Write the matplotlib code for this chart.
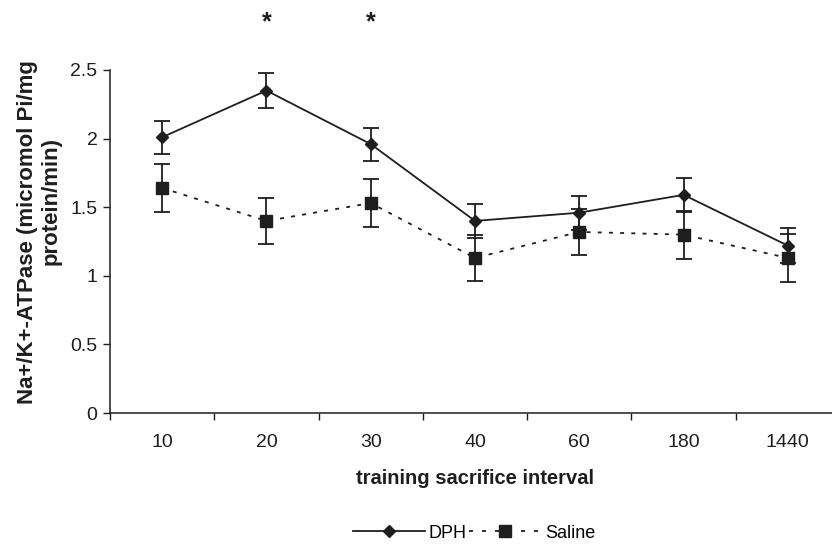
import matplotlib.pyplot as plt
from matplotlib.lines import Line2D

plt.rcParams['font.family'] = ['Liberation Sans', 'DejaVu Sans']

intervals = ['10', '20', '30', '40', '60', '180', '1440']
dph = [2.01, 2.35, 1.96, 1.40, 1.46, 1.59, 1.22]
dph_err = [0.12, 0.125, 0.12, 0.125, 0.125, 0.125, 0.13]
saline = [1.64, 1.40, 1.53, 1.13, 1.32, 1.30, 1.13]
saline_err = [0.177, 0.17, 0.177, 0.165, 0.17, 0.175, 0.177]
signif = ['20', '30']  # marked with *

ink = '#1e1e1e'
dots = (0, (2.2, 4))

fig = plt.figure(figsize=(8.32, 5.44), dpi=100)
ax = fig.add_axes([110/832, 1 - 413/544, 730/832, 343/544])

x = range(len(intervals))
ax.errorbar(x, dph, yerr=dph_err, color=ink, lw=1.3, marker='D', ms=6.5,
            capsize=6, capthick=1.3, elinewidth=1.3, zorder=3)
ax.errorbar(x, saline, yerr=saline_err, color=ink, lw=1.3, marker='s', ms=8.5,
            ls=dots, capsize=6, capthick=1.3, elinewidth=1.3, zorder=2)

for lab in signif:
    ax.text(intervals.index(lab), 2.85, '*', ha='center', va='center',
            fontsize=18, fontweight='bold', color=ink, clip_on=False)

ax.set_xlim(-0.5, len(intervals) - 0.5)
ax.set_ylim(0, 2.5)
ax.set_yticks([0, 0.5, 1, 1.5, 2, 2.5])
ax.set_yticklabels(['0', '0.5', '1', '1.5', '2', '2.5'])
# category labels in the middle, ticks between categories
ax.set_xticks([i + 0.5 for i in range(len(intervals) - 1)] + [-0.5])
ax.set_xticklabels([])
ax.set_xticks(list(x), minor=True)
ax.set_xticklabels(intervals, minor=True)
ax.tick_params(axis='x', which='minor', length=0, pad=15, labelsize=14, colors=ink)
ax.tick_params(axis='x', which='major', length=5, width=1, color=ink)
ax.tick_params(axis='y', length=5, width=1, labelsize=14, colors=ink, pad=4)

for s in ['top', 'right']:
    ax.spines[s].set_visible(False)
for s in ['left', 'bottom']:
    ax.spines[s].set_color(ink)
    ax.spines[s].set_linewidth(1.1)

ax.set_xlabel('training sacrifice interval', fontsize=14.5, fontweight='bold',
              color=ink, labelpad=13)
fig.text(28/832, 1 - 232/544, 'Na+/K+-ATPase (micromol Pi/mg', rotation=90,
         ha='center', va='center', fontsize=16, fontweight='bold', color=ink)
fig.text(51/832, 1 - 201/544, 'protein/min)', rotation=90,
         ha='center', va='center', fontsize=16, fontweight='bold', color=ink)

handles = [Line2D([], [], color=ink, lw=1.3, marker='D', ms=6.5),
           Line2D([], [], color=ink, lw=1.3, ls=(0, (2.2, 5)), marker='s', ms=8.5)]
fig.legend(handles, ['DPH', 'Saline'], loc='center',
           bbox_to_anchor=(474/832, 1 - 533/544), ncol=2, frameon=False,
           fontsize=13, handlelength=4, columnspacing=0.15, handletextpad=0.2)

fig.savefig('out.png', dpi=100)
